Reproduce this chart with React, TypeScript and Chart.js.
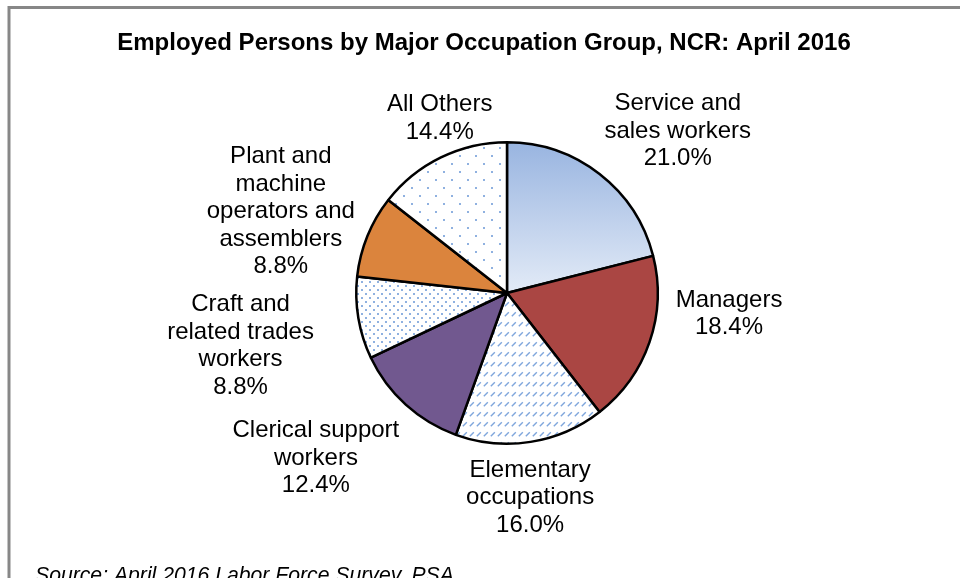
import React, { useEffect, useRef } from 'react';
import { Chart, registerables } from 'chart.js';

Chart.register(...registerables);

const TITLE = 'Employed Persons by Major Occupation Group, NCR: April 2016';
const SOURCE = 'Source: April 2016 Labor Force Survey, PSA';

const categories = [
  'Service and sales workers',
  'Managers',
  'Elementary occupations',
  'Clerical support workers',
  'Craft and related trades workers',
  'Plant and machine operators and assemblers',
  'All Others',
];
const labelLines = [
  ['Service and', 'sales workers'],
  ['Managers'],
  ['Elementary', 'occupations'],
  ['Clerical support', 'workers'],
  ['Craft and', 'related trades', 'workers'],
  ['Plant and', 'machine', 'operators and', 'assemblers'],
  ['All Others'],
];
const shares = [21.0, 18.4, 16.0, 12.4, 8.8, 8.8, 14.4];

// label placement relative to each slice (angle shift in degrees, distance in radii)
const labelAngleShift = [8.3, -14.1, 2.5, 7.3, -1.2, -1.95, 5.1];
const labelDistance = [1.57, 1.478, 1.352, 1.667, 1.799, 1.599, 1.253];

const FONT = '"Liberation Sans", Arial, Helvetica, sans-serif';

function makeTile(w: number, h: number, draw: (c: CanvasRenderingContext2D) => void) {
  const cv = document.createElement('canvas');
  cv.width = w;
  cv.height = h;
  const c = cv.getContext('2d')!;
  c.fillStyle = '#ffffff';
  c.fillRect(0, 0, w, h);
  draw(c);
  return cv;
}

export default function App() {
  const ref = useRef<HTMLCanvasElement | null>(null);

  useEffect(() => {
    const canvas = ref.current!;
    const ctx = canvas.getContext('2d')!;

    const sparseDots = ctx.createPattern(
      makeTile(16, 16, (c) => {
        c.fillStyle = '#8fb1e0';
        c.fillRect(3, 3, 2, 2);
        c.fillRect(11, 11, 2, 2);
      }),
      'repeat'
    );
    const denseDots = ctx.createPattern(
      makeTile(8, 8, (c) => {
        c.fillStyle = '#8fb1e0';
        c.fillRect(1, 1, 2, 2);
        c.fillRect(5, 5, 2, 2);
      }),
      'repeat'
    );
    const dashes = ctx.createPattern(
      makeTile(7, 10, (c) => {
        c.strokeStyle = '#7fa6dc';
        c.lineWidth = 1.4;
        c.beginPath();
        c.moveTo(0.8, 6.2);
        c.lineTo(4.8, 2.2);
        c.stroke();
      }),
      'repeat'
    );

    const fills: any[] = [
      null, // gradient for service
      '#aa4643',
      dashes,
      '#71588f',
      denseDots,
      '#db843d',
      sparseDots,
    ];

    const fillFor = (context: any) => {
      const i = context.dataIndex;
      if (i === 0) {
        const chart = context.chart;
        const a = chart.chartArea;
        if (!a) return '#a9c0e4';
        const cy = (a.top + a.bottom) / 2;
        const r = Math.min(a.right - a.left, a.bottom - a.top) / 2;
        const g = chart.ctx.createLinearGradient(0, cy - r, 0, cy);
        g.addColorStop(0, '#98b4e0');
        g.addColorStop(1, '#e3ebf7');
        return g;
      }
      return fills[i];
    };

    const labelPlugin = {
      id: 'outsideLabels',
      afterDraw(chart: any) {
        const c = chart.ctx as CanvasRenderingContext2D;
        const meta = chart.getDatasetMeta(0);
        c.save();
        c.fillStyle = '#000';
        c.textAlign = 'center';
        c.textBaseline = 'middle';
        c.font = `24px ${FONT}`;
        meta.data.forEach((arc: any, i: number) => {
          const p = arc.getProps(['x', 'y', 'startAngle', 'endAngle', 'outerRadius'], true);
          const mid = (p.startAngle + p.endAngle) / 2 + (labelAngleShift[i] * Math.PI) / 180;
          const d = p.outerRadius * labelDistance[i];
          const lx = p.x + Math.cos(mid) * d;
          const ly = p.y + Math.sin(mid) * d + 2;
          const lines = [...labelLines[i], shares[i].toFixed(1) + '%'];
          const lh = 27.5;
          lines.forEach((t, j) => {
            c.fillText(t, lx, ly + (j - (lines.length - 1) / 2) * lh);
          });
        });
        // title
        c.font = `bold 24px ${FONT}`;
        c.fillText(TITLE, 484, 43);
        // source
        c.font = `italic 21.2px ${FONT}`;
        c.textAlign = 'left';
        c.textBaseline = 'alphabetic';
        c.fillText(SOURCE, 35, 582);
        // frame
        c.strokeStyle = '#878787';
        c.lineWidth = 3;
        c.beginPath();
        c.moveTo(9, 600);
        c.lineTo(9, 7.5);
        c.lineTo(980, 7.5);
        c.stroke();
        c.restore();
      },
    };

    const chart = new Chart(canvas, {
      type: 'pie',
      data: {
        labels: categories,
        datasets: [
          {
            data: shares,
            backgroundColor: fillFor,
            borderColor: '#000000',
            borderWidth: 2.5,
          },
        ],
      },
      options: {
        responsive: false,
        animation: false,
        events: [],
        layout: { padding: { left: 355, right: 301, top: 141, bottom: 133 } },
        plugins: {
          legend: { display: false },
          tooltip: { enabled: false },
          title: { display: false },
        },
      },
      plugins: [labelPlugin],
    });

    return () => chart.destroy();
  }, []);

  return (
    <div style={{ position: 'fixed', left: 0, top: 0, width: 960, height: 578, background: '#fff' }}>
      <canvas ref={ref} width={960} height={578} style={{ width: 960, height: 578, display: 'block' }} />
    </div>
  );
}
